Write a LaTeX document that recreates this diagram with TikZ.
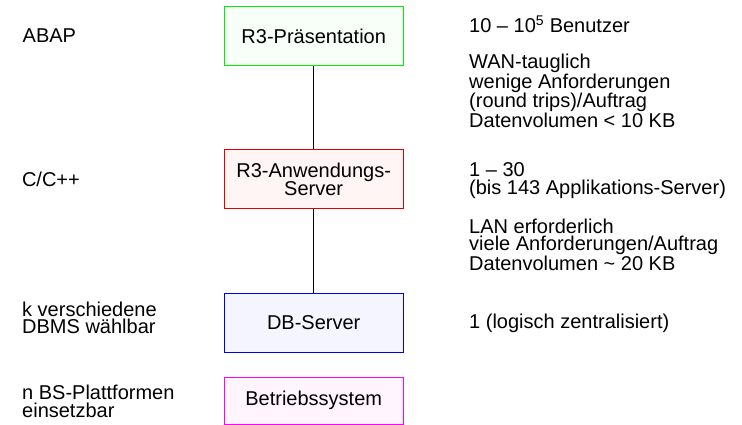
\documentclass[tikz,border=0pt]{standalone}
\usepackage{fontspec}
\setmainfont{Liberation Sans}
\definecolor{gborder}{RGB}{0,240,0}
\definecolor{gfill}{RGB}{248,255,248}
\definecolor{rborder}{RGB}{224,0,0}
\definecolor{rfill}{RGB}{255,245,245}
\definecolor{bborder}{RGB}{0,0,240}
\definecolor{bfill}{RGB}{245,245,255}
\definecolor{mborder}{RGB}{255,0,255}
\definecolor{mfill}{RGB}{255,245,255}
\tikzset{
  txt/.style={font=\fontsize{20}{17.6}\selectfont, inner sep=0pt, anchor=base west, align=left},
  layerbox/.style={draw, line width=1pt, minimum width=179pt, minimum height=59pt, inner sep=0pt,
    font=\fontsize{20}{18.3}\selectfont, align=center},
  conn/.style={line width=1pt, black}
}
\begin{document}
\begin{tikzpicture}[x=1pt,y=-1pt]
\useasboundingbox (0,0) rectangle (742,425);
% boxes
\node[layerbox, draw=gborder, fill=gfill] (pres) at (313.7,36.2) {R3-Präsentation};
\node[layerbox, draw=rborder, fill=rfill] (anw) at (313.7,179.3) {R3-Anwendungs-\\Server};
\node[layerbox, draw=bborder, fill=bfill] (db) at (313.7,322.7) {DB-Server};
\node[layerbox, draw=mborder, fill=mfill, minimum height=47pt] (bs) at (313.7,400.5) {Betriebssystem};
% connectors
\draw[conn] (pres) -- (anw);
\draw[conn] (anw) -- (db);
% left texts (base anchor = baseline of last line)
\node[txt] (abap) at (22.5,42.7) {ABAP};
\node[txt] (cpp) at (21.8,186.7) {C/C++};
\node[txt] (dbms) at (22,333.8) {k verschiedene\\DBMS wählbar};
\node[txt] (bspl) at (22,417) {n BS-Plattformen\\einsetzbar};
% right texts
\node[txt] (users) at (469,32.7) {10 – 10\textsuperscript{5} Benutzer};
\node[txt] (wan) at (469,127.5) {WAN-tauglich\\wenige Anforderungen\\(round trips)/Auftrag\\Datenvolumen < 10 KB};
\node[txt, font=\fontsize{20}{18.3}\selectfont] (count) at (469,195) {1 – 30\\(bis 143 Applikations-Server)};
\node[txt] (lan) at (469,270.5) {LAN erforderlich\\viele Anforderungen/Auftrag\\Datenvolumen \textasciitilde{} 20 KB};
\node[txt] (one) at (469,328) {1 (logisch zentralisiert)};
\end{tikzpicture}
\end{document}
